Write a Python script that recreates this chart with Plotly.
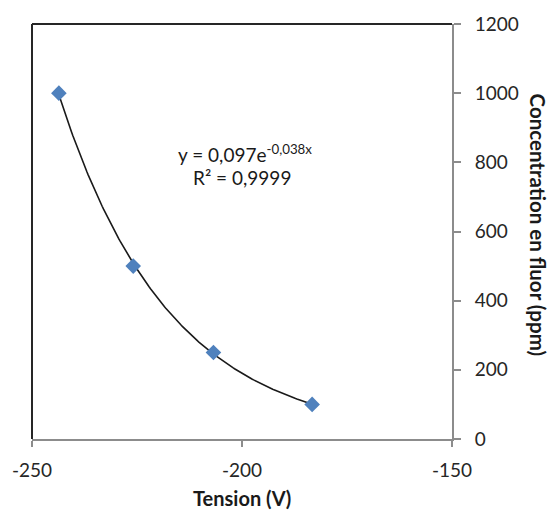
import numpy as np
import plotly.graph_objects as go

# Data
tension_v = [-243.6, -225.9, -206.8, -183.3]
concentration_ppm = [1000, 500, 250, 100]
x_ticks = [-250, -200, -150]
x_tick_labels = ["-250", "-200", "-150"]
y_ticks = [0, 200, 400, 600, 800, 1000, 1200]
y_tick_labels = ["0", "200", "400", "600", "800", "1000", "1200"]

# Exponential trendline (least-squares fit on log values, as in Excel)
b, ln_a = np.polyfit(tension_v, np.log(concentration_ppm), 1)
xt = np.linspace(min(tension_v), max(tension_v), 200)
yt = np.exp(ln_a) * np.exp(b * xt)

FONT = "Lato"
AXIS_GRAY = "#8c8c8c"

fig = go.Figure()
fig.add_trace(go.Scatter(x=xt, y=yt, mode="lines",
                         line=dict(color="#1a1a1a", width=1.6),
                         hoverinfo="skip", showlegend=False))
fig.add_trace(go.Scatter(x=tension_v, y=concentration_ppm, mode="markers",
                         marker=dict(symbol="diamond", size=12, color="#4F81BD",
                                     line=dict(width=0)),
                         showlegend=False))

fig.update_layout(
    width=549, height=511,
    margin=dict(l=32, r=97, t=19, b=72),
    paper_bgcolor="white", plot_bgcolor="white",
    font=dict(family=FONT, size=19, color="#262626"),
    xaxis=dict(range=[-250, -150], tickvals=x_ticks, ticktext=x_tick_labels,
               ticks="outside", ticklen=6, tickwidth=2, tickcolor=AXIS_GRAY,
               showline=True, linecolor=AXIS_GRAY, linewidth=2,
               showgrid=False, zeroline=False, ticklabelstandoff=7),
    yaxis=dict(range=[0, 1200], tickvals=y_ticks, ticktext=y_tick_labels,
               side="right", ticks="outside",
               ticklen=7, tickwidth=2, tickcolor=AXIS_GRAY,
               showline=True, linecolor=AXIS_GRAY, linewidth=2,
               showgrid=False, zeroline=False, ticklabelstandoff=10),
    shapes=[
        dict(type="line", xref="paper", yref="paper", x0=0, x1=0, y0=0, y1=1,
             line=dict(color="#262626", width=2)),
        dict(type="line", xref="paper", yref="paper", x0=0, x1=1, y0=1, y1=1,
             line=dict(color="#262626", width=2)),
    ],
    annotations=[
        dict(text="<b>Tension (V)</b>", xref="paper", yref="paper",
             x=0.5, y=-0.143, showarrow=False, font=dict(size=20, color="#1a1a1a"),
             xanchor="center", yanchor="middle"),
        dict(text="<b>Concentration en fluor (ppm)</b>", xref="paper", yref="paper",
             x=1.204, y=0.515, textangle=90, showarrow=False,
             font=dict(size=20.5, color="#1a1a1a"), xanchor="center", yanchor="middle"),
        dict(text="y = 0,097e<sup>-0,038x</sup>", xref="paper", yref="paper",
             x=0.507, y=0.688, showarrow=False, font=dict(size=19, color="#1a1a1a"),
             xanchor="center", yanchor="middle"),
        dict(text="R² = 0,9999", xref="paper", yref="paper",
             x=0.5, y=0.631, showarrow=False, font=dict(size=19, color="#1a1a1a"),
             xanchor="center", yanchor="middle"),
    ],
)

fig.write_html("out.html", config={"displayModeBar": False},
               post_script="document.body.style.margin='0';document.body.style.overflow='hidden';")
